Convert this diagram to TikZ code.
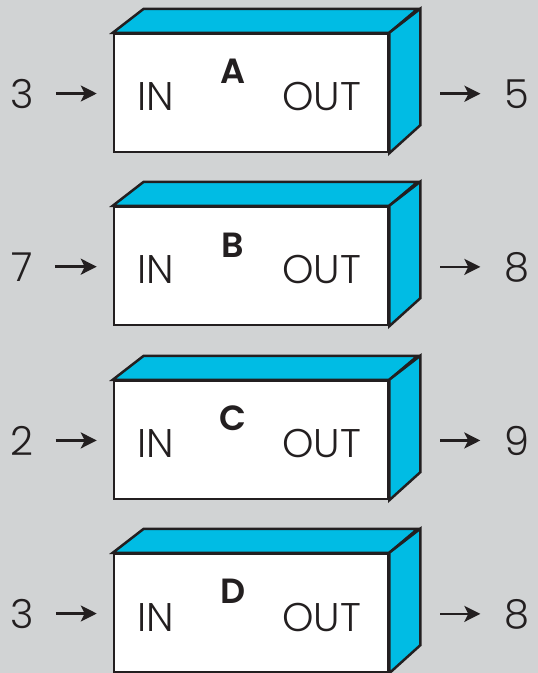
\documentclass[tikz,border=0pt]{standalone}
\usepackage{fontspec}
\setmainfont{Poppins}[UprightFont=* Light,BoldFont=* SemiBold]
\usetikzlibrary{arrows.meta}
\definecolor{panelgrey}{RGB}{209,211,212}
\definecolor{boxcyan}{RGB}{0,188,228}
\definecolor{ink}{RGB}{35,31,32}

\begin{document}
\begin{tikzpicture}[x=1pt,y=-1pt,
    front/.style={draw=ink,fill=white,line width=2.5pt,minimum width=274pt,minimum height=118pt,inner sep=0pt},
    side/.style={draw=ink,fill=boxcyan,line width=2.5pt},
    word/.style={inner sep=0pt,text=ink,font=\fontsize{40}{42}\selectfont},
    tag/.style={inner sep=0pt,text=ink,font=\fontsize{35}{38}\selectfont\bfseries},
    arr/.style={draw=ink,line width=2.5pt,-{Stealth[length=16pt,width=16pt,inset=4pt]}}
  ]
  \fill[panelgrey] (0,0) rectangle (538,673);
  \useasboundingbox (0,0) rectangle (538,673);

  % box A
  \node[front] (boxA) at (251,93) {};
  \draw[side] (boxA.north west) -- ++(31,-24) -- ++(274,0) -- (boxA.north east) -- cycle;
  \draw[side] (boxA.north east) -- ++(31,-24) -- ([shift={(31,-28)}]boxA.south east) -- (boxA.south east) -- cycle;
  \node[word,anchor=base west] (inA) at (137,110) {IN};
  \node[tag,anchor=base] (tagA) at (233,83) {A};
  \node[word,anchor=base east] (outA) at (361,110) {OUT};
  \node[word,anchor=base] (numA) at (22,108) {3};
  \node[word,anchor=base] (resA) at (517,108) {5};
  \draw[arr,shorten <=22pt,shorten >=16pt] (numA.east) -- (numA.east -| boxA.west);
  \draw[arr,shorten <=51pt,shorten >=24pt] (resA.west -| boxA.east) -- (resA.west);

  % box B
  \node[front] (boxB) at (251,266) {};
  \draw[side] (boxB.north west) -- ++(31,-24) -- ++(274,0) -- (boxB.north east) -- cycle;
  \draw[side] (boxB.north east) -- ++(31,-24) -- ([shift={(31,-28)}]boxB.south east) -- (boxB.south east) -- cycle;
  \node[word,anchor=base west] (inB) at (137,283) {IN};
  \node[tag,anchor=base] (tagB) at (233,257) {B};
  \node[word,anchor=base east] (outB) at (361,283) {OUT};
  \node[word,anchor=base] (numB) at (22,281) {7};
  \node[word,anchor=base] (resB) at (517,281) {8};
  \draw[arr,shorten <=22pt,shorten >=16pt] (numB.east) -- (numB.east -| boxB.west);
  \draw[arr,shorten <=51pt,shorten >=24pt] (resB.west -| boxB.east) -- (resB.west);

  % box C
  \node[front] (boxC) at (251,440) {};
  \draw[side] (boxC.north west) -- ++(31,-24) -- ++(274,0) -- (boxC.north east) -- cycle;
  \draw[side] (boxC.north east) -- ++(31,-24) -- ([shift={(31,-28)}]boxC.south east) -- (boxC.south east) -- cycle;
  \node[word,anchor=base west] (inC) at (137,457) {IN};
  \node[tag,anchor=base] (tagC) at (233,430) {C};
  \node[word,anchor=base east] (outC) at (361,457) {OUT};
  \node[word,anchor=base] (numC) at (22,455) {2};
  \node[word,anchor=base] (resC) at (517,455) {9};
  \draw[arr,shorten <=22pt,shorten >=16pt] (numC.east) -- (numC.east -| boxC.west);
  \draw[arr,shorten <=51pt,shorten >=24pt] (resC.west -| boxC.east) -- (resC.west);

  % box D
  \node[front] (boxD) at (251,613) {};
  \draw[side] (boxD.north west) -- ++(31,-24) -- ++(274,0) -- (boxD.north east) -- cycle;
  \draw[side] (boxD.north east) -- ++(31,-24) -- ([shift={(31,-28)}]boxD.south east) -- (boxD.south east) -- cycle;
  \node[word,anchor=base west] (inD) at (137,631) {IN};
  \node[tag,anchor=base] (tagD) at (233,603) {D};
  \node[word,anchor=base east] (outD) at (361,631) {OUT};
  \node[word,anchor=base] (numD) at (22,628) {3};
  \node[word,anchor=base] (resD) at (517,628) {8};
  \draw[arr,shorten <=22pt,shorten >=16pt] (numD.east) -- (numD.east -| boxD.west);
  \draw[arr,shorten <=51pt,shorten >=24pt] (resD.west -| boxD.east) -- (resD.west);
\end{tikzpicture}
\end{document}
